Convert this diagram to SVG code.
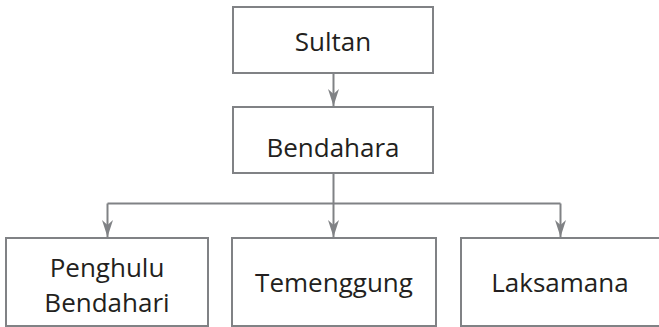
<svg xmlns="http://www.w3.org/2000/svg" width="659" height="327" viewBox="0 0 659 327">
<style>
.box{fill:#fff;stroke:#808285;stroke-width:2}
.lbl{font-family:"Open Sans","Liberation Sans",sans-serif;font-size:26px;fill:#231f20;text-anchor:middle}
.con{fill:none;stroke:#808285;stroke-width:2}
</style>
<defs>
<marker id="arr" markerUnits="userSpaceOnUse" markerWidth="12" markerHeight="18" refX="6" refY="17" orient="0" viewBox="0 0 12 18">
<path d="M0.5,0 L6,5 L11.5,0 L6,17 Z" fill="#808285"/>
</marker>
</defs>
<rect width="659" height="327" fill="#fff"/>
<g id="connectors">
<path class="con" d="M333.5,73 V106" marker-end="url(#arr)"/>
<path class="con" d="M333.5,173 V203.5 M107.5,203.5 H560.5"/>
<path class="con" d="M107.5,203.5 V237" marker-end="url(#arr)"/>
<path class="con" d="M333.5,203.5 V237" marker-end="url(#arr)"/>
<path class="con" d="M560.5,203.5 V237" marker-end="url(#arr)"/>
</g>
<g id="sultan">
<rect class="box" x="233" y="7" width="200" height="66"/>
<text class="lbl" x="333" y="50.5">Sultan</text>
</g>
<g id="bendahara">
<rect class="box" x="233" y="107" width="200" height="66"/>
<text class="lbl" x="333" y="156.5">Bendahara</text>
</g>
<g id="penghulu">
<rect class="box" x="6" y="238" width="202" height="88"/>
<text class="lbl" x="107" y="277">Penghulu</text>
<text class="lbl" x="107" y="311.5">Bendahari</text>
</g>
<g id="temenggung">
<rect class="box" x="232" y="238" width="204" height="88"/>
<text class="lbl" x="334" y="292">Temenggung</text>
</g>
<g id="laksamana">
<rect class="box" x="461" y="238" width="206" height="88"/>
<text class="lbl" x="560" y="292">Laksamana</text>
</g>
</svg>
